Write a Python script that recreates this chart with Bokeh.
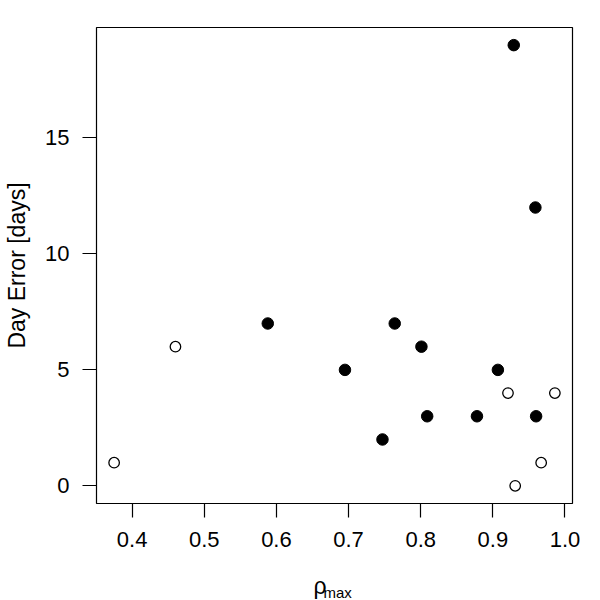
from bokeh.plotting import figure
from bokeh.models import Range1d, FixedTicker, Title, ColumnDataSource
from bokeh.embed import file_html
from bokeh.resources import INLINE

# Filled points
rho_filled = [0.588, 0.695, 0.747, 0.764, 0.801, 0.809, 0.878, 0.907, 0.929, 0.959, 0.960]
err_filled = [7, 5, 2, 7, 6, 3, 3, 5, 19, 12, 3]
# Open points
rho_open = [0.375, 0.460, 0.921, 0.931, 0.967, 0.986]
err_open = [1, 6, 4, 0, 1, 4]

x_ticks = [0.4, 0.5, 0.6, 0.7, 0.8, 0.9, 1.0]
y_ticks = [0, 5, 10, 15]

all_x = rho_filled + rho_open
all_y = err_filled + err_open
dx = max(all_x) - min(all_x)
dy = max(all_y) - min(all_y)
x0, x1 = min(all_x) - 0.04 * dx, max(all_x) + 0.04 * dx
y0, y1 = min(all_y) - 0.04 * dy, max(all_y) + 0.04 * dy

FONT = "Liberation Sans"

p = figure(width=600, height=600, output_backend="svg", toolbar_location=None,
           x_range=Range1d(x0, x1), y_range=Range1d(y0, y1),
           min_border_left=96, min_border_right=28, min_border_top=27, min_border_bottom=97)
p.background_fill_color = "white"
p.border_fill_color = "white"
p.outline_line_color = "black"
p.outline_line_width = 1.2
p.xgrid.visible = False
p.ygrid.visible = False

for ax in (p.xaxis[0], p.yaxis[0]):
    ax.axis_line_color = None
    ax.major_tick_in = 0
    ax.major_tick_out = 14
    ax.major_tick_line_color = "black"
    ax.major_tick_line_width = 1.2
    ax.minor_tick_line_color = None
    ax.major_label_text_font = FONT
    ax.major_label_text_font_size = "22px"
    ax.major_label_text_color = "black"

p.xaxis[0].ticker = FixedTicker(ticks=x_ticks)
p.yaxis[0].ticker = FixedTicker(ticks=y_ticks)
p.xaxis[0].major_label_standoff = 14
p.yaxis[0].major_label_standoff = 13
p.xaxis[0].major_label_overrides = {t: f"{t:.1f}" for t in x_ticks}

p.yaxis[0].axis_label = "Day Error [days]"
p.yaxis[0].axis_label_text_font = FONT
p.yaxis[0].axis_label_text_font_size = "23px"
p.yaxis[0].axis_label_text_font_style = "normal"
p.yaxis[0].axis_label_text_color = "black"
p.yaxis[0].axis_label_standoff = 12

src_f = ColumnDataSource(dict(x=rho_filled, y=err_filled))
src_o = ColumnDataSource(dict(x=rho_open, y=err_open))
p.scatter("x", "y", source=src_f, marker="circle", size=11.5,
          fill_color="black", line_color="black", line_width=1)
p.scatter("x", "y", source=src_o, marker="circle", size=10.5,
          fill_color="white", line_color="black", line_width=1.3)

t_rho = Title(text="ρ", align="left", offset=217, standoff=-15,
              padding=dict(left=0, right=0, top=29, bottom=0),
              text_font=FONT, text_font_size="23px", text_font_style="normal",
              text_color="black")
t_max = Title(text="max", align="left", offset=227, standoff=-19,
              text_font=FONT, text_font_size="15px", text_font_style="normal",
              text_color="black")
p.add_layout(t_rho, "below")
p.add_layout(t_max, "below")

open("out.html", "w").write(file_html(p, INLINE))
